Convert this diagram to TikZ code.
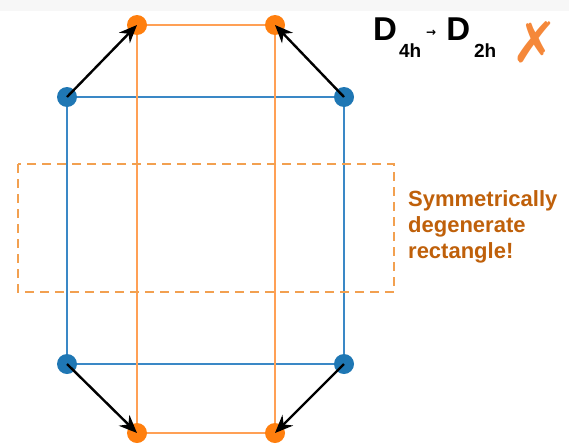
\documentclass[tikz,border=0pt]{standalone}
\usepackage{fontspec}
\setmainfont{Liberation Sans}
\newfontfamily\symfont{DejaVu Sans}
\usepackage{xcolor}
\usetikzlibrary{positioning, arrows.meta}
\definecolor{dotblue}{RGB}{31,119,180}
\definecolor{lineblue}{RGB}{58,136,198}
\definecolor{dotorange}{RGB}{255,127,14}
\definecolor{lineorange}{RGB}{255,160,85}
\definecolor{dashorange}{RGB}{242,160,80}
\definecolor{noteorange}{RGB}{191,96,10}
\definecolor{crossorange}{RGB}{245,136,58}

\begin{document}
\begin{tikzpicture}[
  x=1pt, y=-1pt,
  bdot/.style={circle, fill=dotblue, inner sep=0pt, minimum size=20pt},
  odot/.style={circle, fill=dotorange, inner sep=0pt, minimum size=20pt},
  bline/.style={lineblue, line width=2.6pt},
  oline/.style={lineorange, line width=2.6pt},
  movearrow/.style={black, line width=2.4pt, -{Stealth[length=18pt, width=15pt]}},
]
  \useasboundingbox (0,0) rectangle (569,447);
  \fill[black!3] (0,0) rectangle (569,11);

  % corner points of the square and of the rectangle
  \coordinate (b1) at (67,97);
  \coordinate (b2) at (344,97);
  \coordinate (b3) at (344,364);
  \coordinate (b4) at (67,364);
  \coordinate (o1) at (137,25);
  \coordinate (o2) at (275,25);
  \coordinate (o3) at (275,433);
  \coordinate (o4) at (137,433);

  % edges
  \draw[bline] (b1) -- (b2) -- (b3) -- (b4) -- cycle;
  \draw[oline] (o1) -- (o2) -- (o3) -- (o4) -- cycle;

  % degenerate region
  \draw[dashorange, line width=2.8pt, dash pattern=on 9pt off 6pt]
    (18,164) rectangle (394,292);

  % dots
  \foreach \p in {b1, b2, b3, b4} {
    \node[bdot] (\p d) at (\p) {};
  }
  \foreach \p in {o1, o2, o3, o4} {
    \node[odot] (\p d) at (\p) {};
  }

  % distortion arrows
  \draw[movearrow] (b1) -- (o1);
  \draw[movearrow] (b2) -- (o2);
  \draw[movearrow] (b3) -- (o3);
  \draw[movearrow] (b4) -- (o4);

  % labels
  \node[anchor=base west, inner sep=0pt, font=\bfseries] (title) at (373,40)
    {\fontsize{33}{33}\selectfont D\hspace{2pt}\raisebox{-17pt}{\fontsize{19}{19}\selectfont 4h}%
     \hspace{5pt}\raisebox{4pt}{\fontsize{12}{12}\selectfont\symfont →}\hspace{10pt}%
     D\hspace{4pt}\raisebox{-17pt}{\fontsize{19}{19}\selectfont 2h}};
  \node[text=crossorange, inner sep=0pt, font=\fontsize{56}{56}\selectfont\symfont]
    (cross) at (535,42) {✗};
  \node[anchor=base west, inner sep=0pt, text=noteorange, align=left,
    font=\fontsize{22}{26}\selectfont\bfseries] (note) at (408,258)
    {Symmetrically\\degenerate\\rectangle!};
\end{tikzpicture}
\end{document}
